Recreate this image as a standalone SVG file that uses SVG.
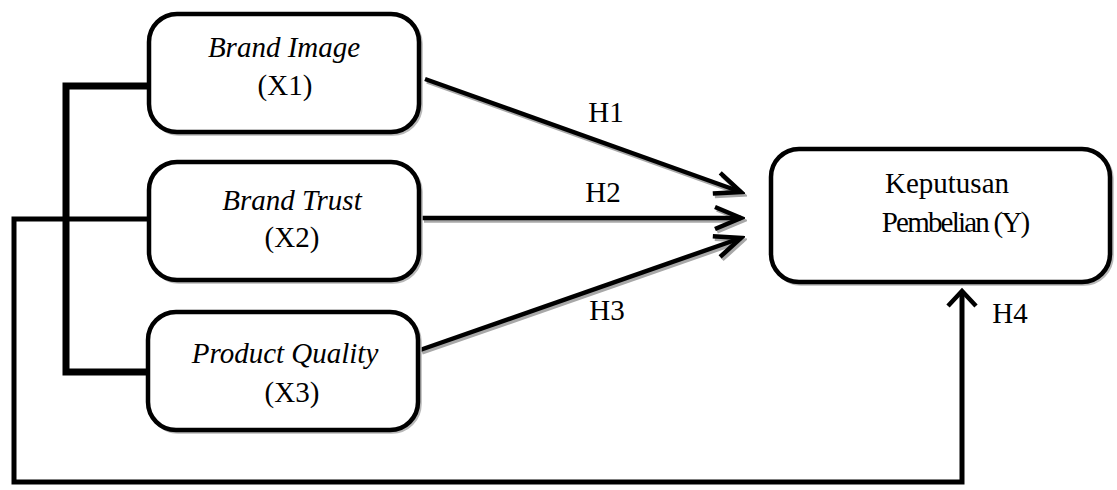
<svg xmlns="http://www.w3.org/2000/svg" width="1117" height="490" viewBox="0 0 1117 490">
<style>
.box{fill:#fff;stroke:#000;stroke-width:4.5}
.boxsh{fill:none;stroke:#b8b8b8;stroke-width:3.5}
.t{font-family:"Liberation Serif","Times New Roman",serif;font-size:29px;fill:#000;text-anchor:middle}
.i{font-style:italic}
.ln{fill:none;stroke:#000;stroke-width:5;stroke-linecap:butt}
.thick{fill:none;stroke:#000;stroke-width:7;stroke-linejoin:miter}
.arr{fill:none;stroke:#000;stroke-width:4.5;marker-end:url(#ah)}
.arrsh{fill:none;stroke:#a8a8a8;stroke-width:4.5;marker-end:url(#ahs)}
</style>
<defs>
<marker id="ah" markerUnits="userSpaceOnUse" viewBox="-32 -16 36 32" refX="0" refY="0" markerWidth="36" markerHeight="32" orient="auto">
<path d="M-26,-11 L0,0 L-26,11" fill="none" stroke="#000" stroke-width="4.5"/>
</marker>
<marker id="ahs" markerUnits="userSpaceOnUse" viewBox="-32 -16 36 32" refX="0" refY="0" markerWidth="36" markerHeight="32" orient="auto">
<path d="M-26,-11 L0,0 L-26,11" fill="none" stroke="#a8a8a8" stroke-width="4.5"/>
</marker>
</defs>

<g id="connectors">
<g id="shadows" transform="translate(2,2.5)">
<line class="arrsh" x1="425" y1="79" x2="741" y2="192"/>
<line class="arrsh" x1="422" y1="218" x2="741" y2="218"/>
<line class="arrsh" x1="420" y1="350" x2="741" y2="238"/>
</g>
<polyline class="thick" points="152,86 66,86 66,372 150,372"/>
<polyline class="ln" points="150,219 14,219 14,482 962,482 962,292"/>
<line class="arr" x1="425" y1="79" x2="741" y2="192"/>
<line class="arr" x1="422" y1="218" x2="741" y2="218"/>
<line class="arr" x1="420" y1="350" x2="741" y2="238"/>
<path d="M948,306 L962,291 L976,306" fill="none" stroke="#000" stroke-width="4.5"/>
<text class="t" x="606" y="122">H1</text>
<text class="t" x="603" y="202">H2</text>
<text class="t" x="607" y="320">H3</text>
<text class="t" x="1010" y="323">H4</text>
</g>

<g id="x1">
<rect class="boxsh" x="151" y="16" width="270" height="118" rx="28"/>
<rect class="box" x="149" y="14" width="270" height="118" rx="28"/>
<text class="t i" x="284" y="57">Brand Image</text>
<text class="t" x="285" y="95">(X1)</text>
</g>

<g id="x2">
<rect class="boxsh" x="151" y="164" width="270" height="118" rx="28"/>
<rect class="box" x="149" y="162" width="270" height="118" rx="28"/>
<text class="t i" x="292" y="210">Brand Trust</text>
<text class="t" x="292" y="247">(X2)</text>
</g>

<g id="x3">
<rect class="boxsh" x="150" y="314" width="270" height="118" rx="28"/>
<rect class="box" x="148" y="312" width="270" height="118" rx="28"/>
<text class="t i" x="285" y="363">Product Quality</text>
<text class="t" x="292" y="402">(X3)</text>
</g>

<g id="y">
<rect class="boxsh" x="773" y="151" width="339" height="133" rx="28"/>
<rect class="box" x="771" y="149" width="339" height="133" rx="28"/>
<text class="t" x="947" y="193">Keputusan</text>
<text class="t" x="955" y="232" letter-spacing="-1.8">Pembelian (Y)</text>
</g>
</svg>
